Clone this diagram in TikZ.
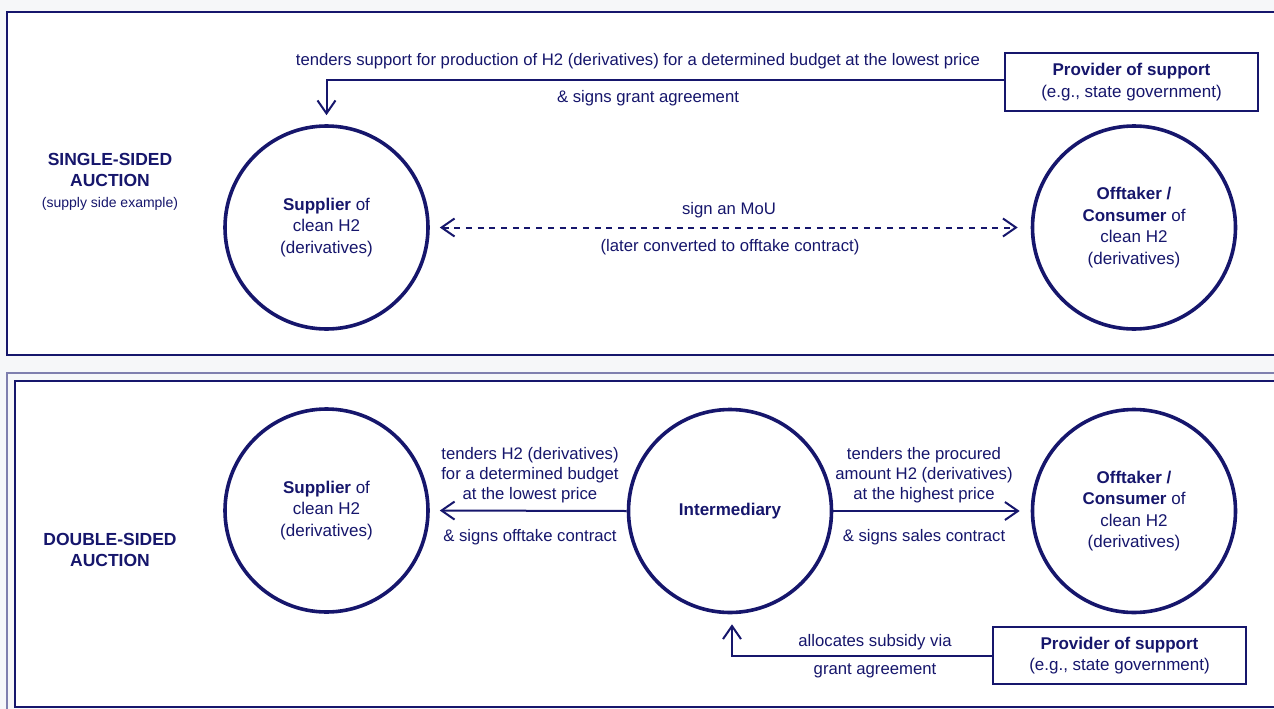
\documentclass[tikz,border=0pt]{standalone}
\usepackage{fontspec}
\setmainfont{Liberation Sans}
\usetikzlibrary{arrows.meta,calc}
\definecolor{navy}{HTML}{16166C}
\definecolor{bgray}{HTML}{F6F7F9}
\begin{document}
\begin{tikzpicture}[x=1pt,y=-1pt,
  every node/.style={text=navy, font=\fontsize{17}{21.5}\selectfont, inner sep=0pt},
  actor/.style={circle, draw=navy, line width=3.6pt, minimum size=203pt, align=center},
  provbox/.style={draw=navy, line width=2.4pt, minimum width=253pt, minimum height=58pt, align=center, fill=white},
  lbl/.style={align=center, font=\fontsize{16.7}{20}\selectfont},
  sectlbl/.style={align=center, font=\fontsize{17.5}{20.5}\selectfont\bfseries},
  conn/.style={draw=navy, line width=2pt, -{Straight Barb[length=13pt,width=18pt]}},
]
\useasboundingbox (0,0) rectangle (1274,709);
\clip (0,0) rectangle (1274,709);
\fill[bgray] (0,0) rectangle (1274,709);
% frames
\draw[navy, line width=2pt, fill=white] (7,12) rectangle (1300,355);
\draw[navy!55, line width=1.8pt, fill=bgray] (7,373) rectangle (1300,730);
\draw[navy, line width=2.2pt, fill=white] (15,381) rectangle (1290,707);

% single-sided
\node[sectlbl] (lab1) at (110,170) {SINGLE-SIDED\\AUCTION};
\node[lbl, font=\fontsize{14}{17}\selectfont] (lab1s) at (110,204) {(supply side example)};
\node[actor] (sup1) at (326.5,227.5) {\textbf{Supplier} of\\clean H2\\(derivatives)};
\node[actor] (off1) at (1134,227.5) {\textbf{Offtaker /}\\\textbf{Consumer} of\\clean H2\\(derivatives)};
\node[provbox] (prov1) at (1131.5,82) {\textbf{Provider of support}\\(e.g., state government)};
\node[lbl] (t1a) at (638,61) {tenders support for production of H2 (derivatives) for a determined budget at the lowest price};
\node[lbl] (t1b) at (648,98) {\& signs grant agreement};
\node[lbl] (t1c) at (729,210) {sign an MoU};
\node[lbl] (t1d) at (730,247) {(later converted to offtake contract)};
\draw[conn, shorten >=9pt] ([yshift=2pt]prov1.west) -| (sup1.north);
\draw[draw=navy, line width=2pt, dash pattern=on 6pt off 5.7pt, {Straight Barb[length=13pt,width=18pt]}-{Straight Barb[length=13pt,width=18pt]}, shorten <=10pt, shorten >=13pt] (sup1.east) -- (off1.west);

% double-sided
\node[sectlbl] (lab2) at (110,550) {DOUBLE-SIDED\\AUCTION};
\node[actor] (sup2) at (326.5,510.5) {\textbf{Supplier} of\\clean H2\\(derivatives)};
\node[actor] (int2) at (730,511) {\textbf{Intermediary}};
\node[actor] (off2) at (1134,511) {\textbf{Offtaker /}\\\textbf{Consumer} of\\clean H2\\(derivatives)};
\node[provbox, minimum height=57pt] (prov2) at (1119.5,655.5) {\textbf{Provider of support}\\(e.g., state government)};
\node[lbl] (t2a) at (530,475) {tenders H2 (derivatives)\\for a determined budget\\at the lowest price};
\node[lbl] (t2b) at (530,537) {\& signs offtake contract};
\node[lbl] (t2c) at (924,475) {tenders the procured\\amount H2 (derivatives)\\at the highest price};
\node[lbl] (t2d) at (924,537) {\& signs sales contract};
\node[lbl] (t2e) at (875,642) {allocates subsidy via};
\node[lbl] (t2f) at (875,671) {grant agreement};
\draw[conn, shorten >=10pt] (int2.west) -- (sup2.east);
\draw[conn, shorten >=11pt] (int2.east) -- (off2.west);
\draw[conn, shorten >=10pt] (prov2.west) -| ([xshift=2pt]int2.south);
\end{tikzpicture}
\end{document}
